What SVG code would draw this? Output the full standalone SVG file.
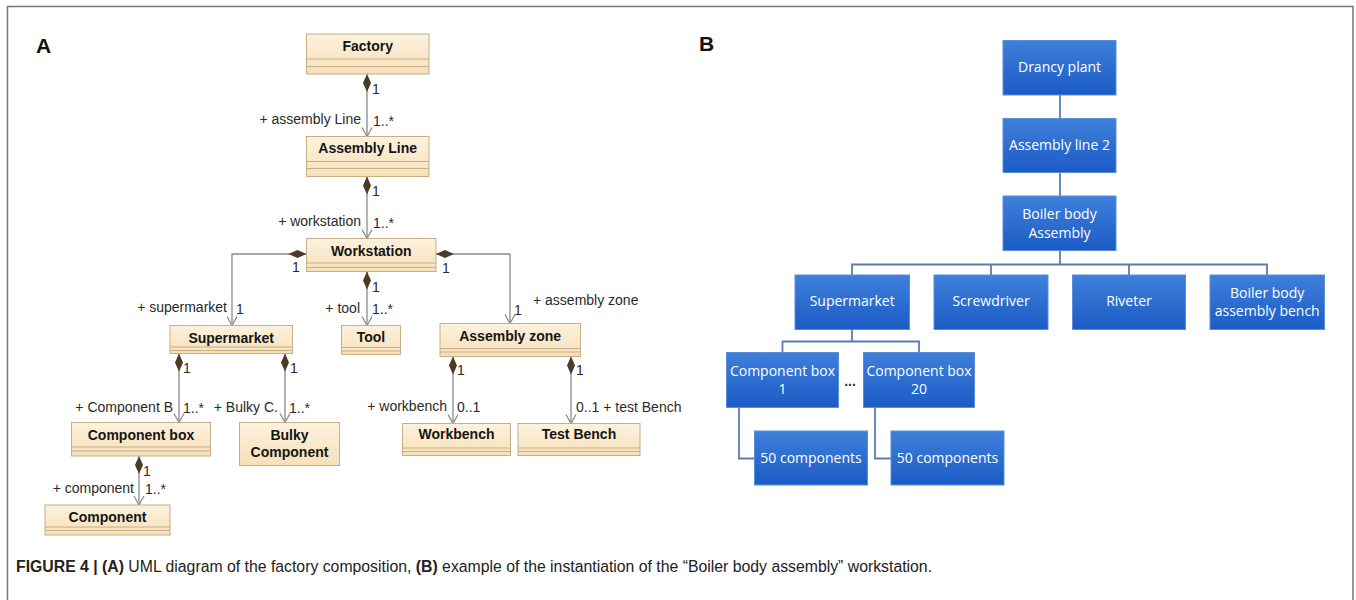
<svg xmlns="http://www.w3.org/2000/svg" width="1356" height="600" viewBox="0 0 1356 600">
<defs>
<linearGradient id="uml" x1="0" y1="0" x2="0" y2="1">
<stop offset="0" stop-color="#fdf2de"/>
<stop offset="1" stop-color="#f6e0b9"/>
</linearGradient>
<linearGradient id="blue" x1="0" y1="0" x2="0" y2="1">
<stop offset="0" stop-color="#3f80da"/>
<stop offset="1" stop-color="#1b5bc6"/>
</linearGradient>
<marker id="open" markerWidth="12" markerHeight="12" refX="10" refY="6" orient="auto" markerUnits="userSpaceOnUse">
<path d="M1,1 L10,6 L1,11" fill="none" stroke="#8a8a8a" stroke-width="1.3"/>
</marker>
<marker id="dia" markerWidth="20" markerHeight="10" refX="0" refY="5" orient="auto" markerUnits="userSpaceOnUse">
<path d="M0,5 L9,1 L18,5 L9,9 Z" fill="#4b3a27"/>
</marker>
</defs>
<style>
.frame{fill:none;stroke:#777;stroke-width:1.5}
.ub{fill:url(#uml);stroke:#c6ae86;stroke-width:1}
.sep{stroke:#c6ae86;stroke-width:1}
.ut{font-family:"Liberation Sans",Arial,sans-serif;font-size:14px;font-weight:bold;fill:#151515;text-anchor:middle}
.lb{font-family:"Liberation Sans",Arial,sans-serif;font-size:14px;fill:#2a2a2a}
.end{text-anchor:end}
.uc{fill:none;stroke:#8a8a8a;stroke-width:1.3;marker-start:url(#dia);marker-end:url(#open)}
.bb{fill:url(#blue);stroke:#5a8ed6;stroke-width:1}
.bt{font-family:"Open Sans","Noto Sans",sans-serif;font-size:14px;fill:#ffffff;text-anchor:middle}
.bc{fill:none;stroke:#5b7cb2;stroke-width:1.8}
.pl{font-family:"Liberation Sans",Arial,sans-serif;font-size:21px;font-weight:bold;fill:#111}
.cap{font-family:"Liberation Sans",Arial,sans-serif;font-size:15.8px;fill:#222}
</style>
<rect x="0" y="0" width="1356" height="600" fill="#ffffff"/>
<rect class="frame" x="7.5" y="6.5" width="1345.5" height="700"/>
<text class="pl" x="36" y="53">A</text>
<text class="pl" x="699" y="51">B</text>

<!-- Panel A connectors -->
<g id="uml-connectors">
<path class="uc" d="M367,74 L367,136.5"/>
<path class="uc" d="M367,176.5 L367,238.5"/>
<path class="uc" d="M367,271.5 L367,325.5"/>
<path class="uc" d="M306.5,254 L232,254 L232,325.5"/>
<path class="uc" d="M436,254 L510,254 L510,323.5"/>
<path class="uc" d="M179,353.5 L179,422.5"/>
<path class="uc" d="M285,353.5 L285,422.5"/>
<path class="uc" d="M139,456 L139,505"/>
<path class="uc" d="M453,356.5 L453,423.5"/>
<path class="uc" d="M571,356.5 L571,423.5"/>
<text class="lb" x="372" y="94">1</text>
<text class="lb end" x="361" y="124">+ assembly Line</text>
<text class="lb" x="373" y="126">1..*</text>
<text class="lb" x="372" y="196">1</text>
<text class="lb end" x="361" y="226">+ workstation</text>
<text class="lb" x="373" y="228">1..*</text>
<text class="lb" x="292" y="272">1</text>
<text class="lb" x="442" y="273">1</text>
<text class="lb" x="372" y="292">1</text>
<text class="lb end" x="360" y="313">+ tool</text>
<text class="lb" x="372" y="314">1..*</text>
<text class="lb end" x="227" y="312">+ supermarket</text>
<text class="lb" x="236" y="314">1</text>
<text class="lb" x="533" y="305">+ assembly zone</text>
<text class="lb" x="514" y="315">1</text>
<text class="lb" x="183" y="373">1</text>
<text class="lb" x="290" y="373">1</text>
<text class="lb end" x="173" y="412">+ Component B</text>
<text class="lb" x="183" y="413">1..*</text>
<text class="lb end" x="278" y="412">+ Bulky C.</text>
<text class="lb" x="289" y="413">1..*</text>
<text class="lb" x="143" y="476">1</text>
<text class="lb end" x="134" y="493">+ component</text>
<text class="lb" x="145" y="494">1..*</text>
<text class="lb" x="457" y="375">1</text>
<text class="lb" x="576" y="375">1</text>
<text class="lb end" x="447" y="411">+ workbench</text>
<text class="lb" x="457" y="412">0..1</text>
<text class="lb" x="576" y="412">0..1 + test Bench</text>
</g>

<!-- Panel A nodes -->
<g id="factory">
<rect class="ub" x="306.5" y="34" width="122.5" height="40"/>
<line class="sep" x1="306.5" y1="59" x2="429" y2="59"/>
<line class="sep" x1="306.5" y1="66.5" x2="429" y2="66.5"/>
<text class="ut" x="367.7" y="51">Factory</text>
</g>
<g id="assembly-line">
<rect class="ub" x="306.5" y="136.5" width="122.5" height="40"/>
<line class="sep" x1="306.5" y1="161.5" x2="429" y2="161.5"/>
<line class="sep" x1="306.5" y1="168.5" x2="429" y2="168.5"/>
<text class="ut" x="367.7" y="153">Assembly Line</text>
</g>
<g id="workstation">
<rect class="ub" x="306.5" y="238.5" width="129.5" height="33"/>
<line class="sep" x1="306.5" y1="263" x2="436" y2="263"/>
<line class="sep" x1="306.5" y1="267.5" x2="436" y2="267.5"/>
<text class="ut" x="371.2" y="255.5">Workstation</text>
</g>
<g id="tool">
<rect class="ub" x="341.5" y="325.5" width="59" height="29"/>
<line class="sep" x1="341.5" y1="347.5" x2="400.5" y2="347.5"/>
<line class="sep" x1="341.5" y1="351" x2="400.5" y2="351"/>
<text class="ut" x="371" y="341.5">Tool</text>
</g>
<g id="supermarket">
<rect class="ub" x="170" y="325.5" width="122.5" height="28"/>
<line class="sep" x1="170" y1="347" x2="292.5" y2="347"/>
<line class="sep" x1="170" y1="350.5" x2="292.5" y2="350.5"/>
<text class="ut" x="231.2" y="343">Supermarket</text>
</g>
<g id="assembly-zone">
<rect class="ub" x="440" y="323.5" width="140.5" height="33"/>
<line class="sep" x1="440" y1="348.5" x2="580.5" y2="348.5"/>
<line class="sep" x1="440" y1="352" x2="580.5" y2="352"/>
<text class="ut" x="510.2" y="341">Assembly zone</text>
</g>
<g id="component-box">
<rect class="ub" x="71.5" y="422.5" width="139" height="33.5"/>
<line class="sep" x1="71.5" y1="447" x2="210.5" y2="447"/>
<line class="sep" x1="71.5" y1="451" x2="210.5" y2="451"/>
<text class="ut" x="141" y="440">Component box</text>
</g>
<g id="bulky-component">
<rect class="ub" x="239.5" y="422.5" width="100" height="43"/>
<text class="ut" x="289.5" y="440">Bulky</text>
<text class="ut" x="289.5" y="457">Component</text>
</g>
<g id="component">
<rect class="ub" x="45" y="505" width="125" height="30"/>
<line class="sep" x1="45" y1="527" x2="170" y2="527"/>
<line class="sep" x1="45" y1="530.5" x2="170" y2="530.5"/>
<text class="ut" x="107.5" y="521.5">Component</text>
</g>
<g id="workbench">
<rect class="ub" x="402.5" y="423.5" width="108" height="32"/>
<line class="sep" x1="402.5" y1="448" x2="510.5" y2="448"/>
<line class="sep" x1="402.5" y1="451.5" x2="510.5" y2="451.5"/>
<text class="ut" x="456.5" y="439">Workbench</text>
</g>
<g id="test-bench">
<rect class="ub" x="518" y="423.5" width="122" height="32"/>
<line class="sep" x1="518" y1="448" x2="640" y2="448"/>
<line class="sep" x1="518" y1="451.5" x2="640" y2="451.5"/>
<text class="ut" x="579" y="439">Test Bench</text>
</g>

<!-- Panel B connectors -->
<g id="tree-connectors">
<path class="bc" d="M1060,95 L1060,118.5"/>
<path class="bc" d="M1060,172.5 L1060,196"/>
<path class="bc" d="M1060,250.5 L1060,264.5"/>
<path class="bc" d="M852,275 L852,264.5 L1267,264.5 L1267,275"/>
<path class="bc" d="M991,264.5 L991,275"/>
<path class="bc" d="M1129,264.5 L1129,275"/>
<path class="bc" d="M852,329.5 L852,341.5"/>
<path class="bc" d="M782.5,352.5 L782.5,341.5 L919,341.5 L919,352.5"/>
<path class="bc" d="M739,407.5 L739,458.5 L754.5,458.5"/>
<path class="bc" d="M875,407.5 L875,458.5 L891,458.5"/>
</g>

<!-- Panel B nodes -->
<g id="drancy-plant">
<rect class="bb" x="1003" y="40.5" width="113" height="54.5"/>
<text class="bt" x="1059.5" y="72">Drancy plant</text>
</g>
<g id="assembly-line-2">
<rect class="bb" x="1003" y="118.5" width="113" height="54"/>
<text class="bt" x="1059.5" y="150">Assembly line 2</text>
</g>
<g id="boiler-body-assembly">
<rect class="bb" x="1003" y="196" width="113" height="54.5"/>
<text class="bt" x="1059.5" y="219">Boiler body</text>
<text class="bt" x="1059.5" y="237.5">Assembly</text>
</g>
<g id="b-supermarket">
<rect class="bb" x="795" y="275" width="114.5" height="54.5"/>
<text class="bt" x="852.2" y="306">Supermarket</text>
</g>
<g id="screwdriver">
<rect class="bb" x="934" y="275" width="114" height="54.5"/>
<text class="bt" x="991" y="306">Screwdriver</text>
</g>
<g id="riveter">
<rect class="bb" x="1072.5" y="275" width="113" height="54.5"/>
<text class="bt" x="1129" y="306">Riveter</text>
</g>
<g id="assembly-bench">
<rect class="bb" x="1210" y="275" width="114.5" height="54.5"/>
<text class="bt" x="1267.2" y="297.5">Boiler body</text>
<text class="bt" x="1267.2" y="315.5">assembly bench</text>
</g>
<g id="component-box-1">
<rect class="bb" x="726.5" y="352.5" width="112" height="55"/>
<text class="bt" x="782.5" y="375.5">Component box</text>
<text class="bt" x="782.5" y="394">1</text>
</g>
<text x="850" y="386" font-family="Liberation Sans, Arial, sans-serif" font-size="14" font-weight="bold" fill="#333" text-anchor="middle">...</text>
<g id="component-box-20">
<rect class="bb" x="863.5" y="352.5" width="111" height="55"/>
<text class="bt" x="919" y="375.5">Component box</text>
<text class="bt" x="919" y="394">20</text>
</g>
<g id="components-1">
<rect class="bb" x="754.5" y="431" width="113" height="54"/>
<text class="bt" x="811" y="463">50 components</text>
</g>
<g id="components-20">
<rect class="bb" x="891" y="431" width="113" height="54"/>
<text class="bt" x="947.5" y="463">50 components</text>
</g>

<text class="cap" x="16" y="572"><tspan font-weight="bold">FIGURE 4 | (A)</tspan> UML diagram of the factory composition, <tspan font-weight="bold">(B)</tspan> example of the instantiation of the “Boiler body assembly” workstation.</text>
</svg>
